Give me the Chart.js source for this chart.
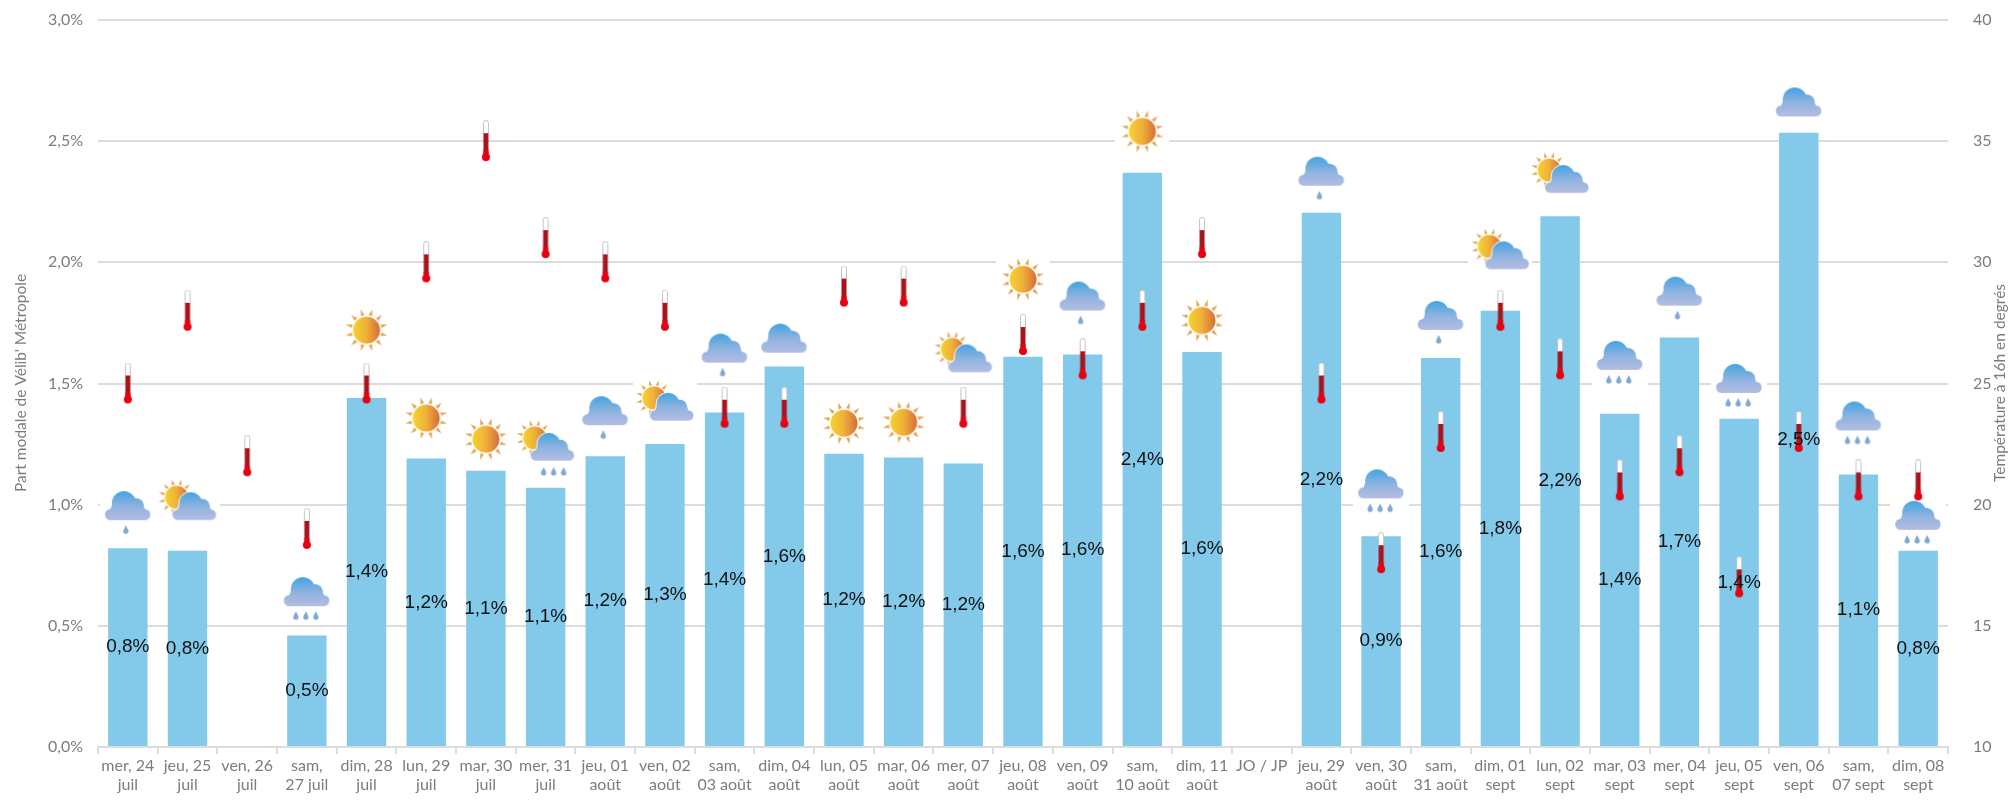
<!DOCTYPE html>
<html>
<head>
<meta charset="utf-8">
<title>Part modale de Vélib' Métropole</title>
<script src="https://cdn.jsdelivr.net/npm/chart.js@4/dist/chart.umd.min.js"></script>
<style>
    html, body { margin: 0; padding: 0; background: #fff; }
    #wrap { width: 2009px; height: 805px; }
</style>
</head>
<body>
<div id="wrap"><canvas id="chart" width="2009" height="805"></canvas></div>
<script>
const categories = [
    ['mer, 24', 'juil'], ['jeu, 25', 'juil'], ['ven, 26', 'juil'], ['sam,', '27 juil'], ['dim, 28', 'juil'],
    ['lun, 29', 'juil'], ['mar, 30', 'juil'], ['mer, 31', 'juil'], ['jeu, 01', 'août'], ['ven, 02', 'août'],
    ['sam,', '03 août'], ['dim, 04', 'août'], ['lun, 05', 'août'], ['mar, 06', 'août'], ['mer, 07', 'août'],
    ['jeu, 08', 'août'], ['ven, 09', 'août'], ['sam,', '10 août'], ['dim, 11', 'août'], ['JO / JP'],
    ['jeu, 29', 'août'], ['ven, 30', 'août'], ['sam,', '31 août'], ['dim, 01', 'sept'], ['lun, 02', 'sept'],
    ['mar, 03', 'sept'], ['mer, 04', 'sept'], ['jeu, 05', 'sept'], ['ven, 06', 'sept'], ['sam,', '07 sept'],
    ['dim, 08', 'sept']
];

// part modale (%)
const modalShare = [0.82, 0.81, null, 0.46, 1.44, 1.19, 1.14, 1.07, 1.20, 1.25, 1.38, 1.57, 1.21, 1.195, 1.17,
    1.61, 1.62, 2.37, 1.63, null, 2.205, 0.87, 1.605, 1.80, 2.19, 1.375, 1.69, 1.355, 2.535, 1.125, 0.81];

// temperature a 16h
const temperature = [25, 28, 22, 19, 25, 30, 35, 31, 30, 28, 24, 24, 29, 29, 24, 27, 26, 28, 31, null,
    25, 18, 23, 28, 26, 21, 22, 17, 23, 21, 21];

const weather = ['rain1', 'suncloud', null, 'rain3', 'sun', 'sun', 'sun', 'suncloud3', 'rain1', 'suncloud',
    'rain1', 'cloud', 'sun', 'sun', 'suncloud', 'sun', 'rain1', 'sun', 'sun', null,
    'rain1', 'rain3', 'rain1', 'suncloud', 'suncloud', 'rain3', 'rain1', 'rain3', 'cloud', 'rain3', 'rain3'];
const weatherLevel = [0.965, 1.01, null, 0.61, 1.72, 1.357, 1.27, 1.23, 1.357, 1.42, 1.615, 1.685, 1.336, 1.34, 1.62,
    1.93, 1.83, 2.54, 1.76, null, 2.345, 1.055, 1.75, 2.045, 2.36, 1.585, 1.85, 1.49, 2.66, 1.335, 0.925];

const shareTicks = [0, 0.5, 1, 1.5, 2, 2.5, 3];
const tempTicks = [10, 15, 20, 25, 30, 35, 40];

const GREY = '#7c7c7c';
const GRID = '#dcdcdc';
const FONT = 'Lato';

function newCanvas(w, h, white) {
    const c = document.createElement('canvas');
    c.width = w;
    c.height = h;
    const ctx = c.getContext('2d');
    if (white) {
        ctx.fillStyle = '#fff';
        ctx.fillRect(0, 0, w, h);
    }
    return [c, ctx];
}

function drawSun(ctx, x, y, r) {
    ctx.fillStyle = '#e2a44f';
    for (let i = 0; i < 12; i++) {
        const a = (i + 0.5) * Math.PI * 2 / 12;
        ctx.beginPath();
        ctx.moveTo(x + Math.cos(a - 0.12) * r * 1.12, y + Math.sin(a - 0.12) * r * 1.12);
        ctx.lineTo(x + Math.cos(a) * r * 1.6, y + Math.sin(a) * r * 1.6);
        ctx.lineTo(x + Math.cos(a + 0.12) * r * 1.12, y + Math.sin(a + 0.12) * r * 1.12);
        ctx.fill();
    }
    const g = ctx.createLinearGradient(x - r, y, x + r, y);
    g.addColorStop(0, '#f7d32e');
    g.addColorStop(0.5, '#efb03a');
    g.addColorStop(1, '#d66c3a');
    ctx.fillStyle = g;
    ctx.beginPath();
    ctx.arc(x, y, r, 0, Math.PI * 2);
    ctx.fill();
}

// x, y : coin haut gauche, w : largeur du nuage
function drawCloud(ctx, x, y, w) {
    const k = w / 46;
    const h = 29 * k;
    ctx.save();
    ctx.strokeStyle = 'rgba(255,255,255,0.9)';
    ctx.lineWidth = 2;
    const g = ctx.createLinearGradient(0, y, 0, y + h);
    g.addColorStop(0, '#43a4e0');
    g.addColorStop(0.55, '#92b4e0');
    g.addColorStop(1, '#b4bde2');
    ctx.fillStyle = g;
    ctx.beginPath();
    ctx.arc(x + 19 * k, y + 12 * k, 12 * k, Math.PI, 0);
    ctx.arc(x + 31 * k, y + 15 * k, 8 * k, -Math.PI * 0.8, 0);
    ctx.arc(x + 40 * k, y + 23.5 * k, 5.5 * k, -Math.PI / 2, Math.PI / 2);
    ctx.lineTo(x + 5.5 * k, y + 29 * k);
    ctx.arc(x + 5.5 * k, y + 23.5 * k, 5.5 * k, Math.PI / 2, -Math.PI / 2);
    ctx.lineTo(x + 7 * k, y + 14 * k);
    ctx.closePath();
    ctx.stroke();
    ctx.fill();
    ctx.restore();
}

function drawDrop(ctx, x, y) {
    ctx.fillStyle = '#7fa9d2';
    ctx.beginPath();
    ctx.arc(x, y + 4, 2.6, 0, Math.PI * 2);
    ctx.fill();
    ctx.beginPath();
    ctx.moveTo(x - 2.3, y + 3);
    ctx.lineTo(x, y - 2);
    ctx.lineTo(x + 2.3, y + 3);
    ctx.fill();
}

function makeIcon(kind) {
    if (kind === 'sun') {
        const [c, ctx] = newCanvas(54, 54, true);
        drawSun(ctx, 27, 27, 13.5);
        return c;
    }
    if (kind === 'cloud') {
        const [c, ctx] = newCanvas(54, 34, true);
        drawCloud(ctx, 4, 2, 46);
        return c;
    }
    if (kind === 'rain1' || kind === 'rain3') {
        const [c, ctx] = newCanvas(56, 48, true);
        drawCloud(ctx, 5, 2, 46);
        if (kind === 'rain1') {
            drawDrop(ctx, 26, 38);
        } else {
            [17, 27, 37].forEach(x => drawDrop(ctx, x, 38));
        }
        return c;
    }
    // soleil + nuage
    const withDrops = kind === 'suncloud3';
    const [c, ctx] = newCanvas(64, withDrops ? 60 : 48, true);
    drawSun(ctx, 21, 19, 11.5);
    drawCloud(ctx, 17, 14, 44);
    if (withDrops) {
        [30, 40, 50].forEach(x => drawDrop(ctx, x, 50));
    }
    return c;
}

function makeThermometer() {
    const [c, ctx] = newCanvas(12, 42, false);
    ctx.strokeStyle = '#c4c4c4';
    ctx.lineWidth = 1;
    ctx.fillStyle = '#fff';
    ctx.beginPath();
    ctx.roundRect(3.5, 0.5, 5, 14, 2);
    ctx.fill();
    ctx.stroke();
    ctx.fillStyle = '#a8141c';
    ctx.fillRect(3.5, 13, 5, 23);
    ctx.fillStyle = '#e60012';
    ctx.fillRect(3.5, 30, 5, 6);
    ctx.beginPath();
    ctx.arc(6, 37, 4, 0, Math.PI * 2);
    ctx.fill();
    return c;
}

const iconCache = {};
const weatherIcons = weather.map(function(kind) {
    if (!kind) return false;
    if (!iconCache[kind]) iconCache[kind] = makeIcon(kind);
    return iconCache[kind];
});

// valeurs dans les barres + titres d'axes
const extras = {
    id: 'extras',
    afterDatasetsDraw(chart) {
        const ctx = chart.ctx;
        const bars = chart.getDatasetMeta(0).data;
        ctx.save();
        ctx.fillStyle = '#111';
        ctx.font = '19px "Liberation Sans"';
        ctx.textAlign = 'center';
        ctx.textBaseline = 'middle';
        bars.forEach(function(bar, i) {
            if (modalShare[i] === null) return;
            const mid = (bar.y + bar.base) / 2;
            ctx.fillText(modalShare[i].toFixed(1).replace('.', ',') + '%', bar.x, mid);
        });
        ctx.restore();
    },
    afterDraw(chart) {
        const ctx = chart.ctx;
        ctx.save();
        ctx.fillStyle = GREY;
        ctx.font = '15.5px ' + FONT;
        ctx.textAlign = 'center';
        ctx.textBaseline = 'middle';
        ctx.translate(21, 383);
        ctx.rotate(-Math.PI / 2);
        ctx.fillText("Part modale de Vélib' Métropole", 0, 0);
        ctx.restore();
        ctx.save();
        ctx.fillStyle = GREY;
        ctx.font = '15.5px ' + FONT;
        ctx.textAlign = 'center';
        ctx.textBaseline = 'middle';
        ctx.translate(2000, 383);
        ctx.rotate(-Math.PI / 2);
        ctx.fillText('Température à 16h en degrés', 0, 0);
        ctx.restore();
    }
};

// sinon la demi-hauteur des labels repousse le haut du graphe
function noLabelPadding(scale) {
    scale.paddingTop = 0;
    scale.paddingBottom = 0;
}

new Chart(document.getElementById('chart'), {
    type: 'bar',
    data: {
        labels: categories,
        datasets: [{
            label: 'Part modale',
            data: modalShare,
            backgroundColor: '#83c9ea',
            barPercentage: 0.66,
            categoryPercentage: 1,
            yAxisID: 'y',
            order: 3
        }, {
            type: 'line',
            label: 'Météo',
            data: weatherLevel,
            showLine: false,
            pointStyle: weatherIcons,
            yAxisID: 'y',
            order: 2
        }, {
            type: 'line',
            label: 'Température',
            data: temperature,
            showLine: false,
            pointStyle: makeThermometer(),
            yAxisID: 'y1',
            order: 1
        }]
    },
    options: {
        responsive: false,
        animation: false,
        layout: { autoPadding: false, padding: { top: 20, left: 0, right: 0, bottom: 0 } },
        plugins: { legend: { display: false }, tooltip: { enabled: false } },
        scales: {
            x: {
                offset: true,
                border: { color: GRID, width: 2 },
                grid: { drawOnChartArea: false, drawTicks: true, tickLength: 7, color: GRID, lineWidth: 2 },
                ticks: { color: GREY, font: { family: FONT, size: 16 }, maxRotation: 0, minRotation: 0, autoSkip: false, padding: 2 },
                afterFit(scale) { scale.height = 58; }
            },
            y: {
                position: 'left',
                min: 0,
                max: 3,
                border: { display: false },
                grid: { color: GRID, lineWidth: 2, drawTicks: false },
                afterBuildTicks(scale) { scale.ticks = shareTicks.map(v => ({ value: v })); },
                ticks: {
                    color: GREY,
                    font: { family: FONT, size: 16 },
                    padding: 15,
                    callback: v => v.toFixed(1).replace('.', ',') + '%'
                },
                afterFit(scale) { scale.width = 98; noLabelPadding(scale); }
            },
            y1: {
                position: 'right',
                min: 10,
                max: 40,
                border: { display: false },
                grid: { display: false },
                afterBuildTicks(scale) { scale.ticks = tempTicks.map(v => ({ value: v })); },
                ticks: { color: GREY, font: { family: FONT, size: 16 }, padding: 17 },
                afterFit(scale) { scale.width = 61; noLabelPadding(scale); }
            }
        }
    },
    plugins: [extras]
});
</script>
</body>
</html>
